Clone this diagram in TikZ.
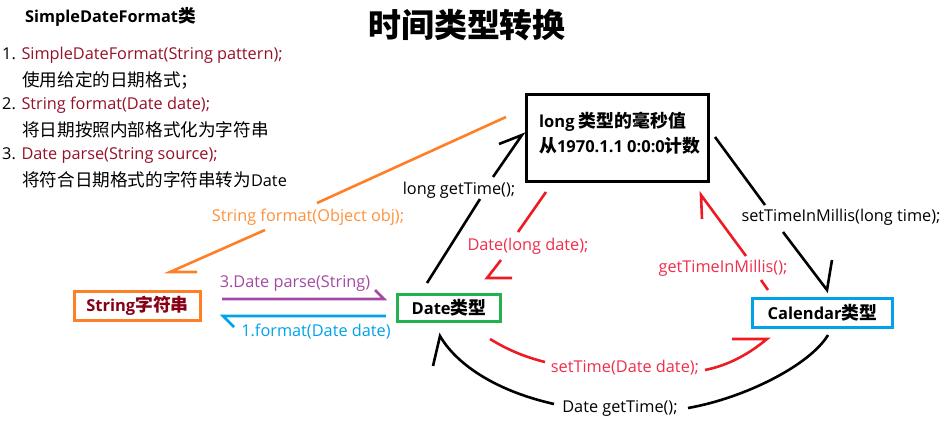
\documentclass[tikz,border=0pt]{standalone}
\usepackage{fontspec}
\setmainfont{Open Sans}
\newfontfamily\cjk[Scale=1.08]{Noto Sans CJK SC}
\definecolor{cOrange}{RGB}{255,127,39}
\definecolor{cOrangeT}{RGB}{255,145,60}
\definecolor{cPurple}{RGB}{163,73,164}
\definecolor{cBlue}{RGB}{0,162,232}
\definecolor{cGreen}{RGB}{34,177,76}
\definecolor{cRed}{RGB}{237,28,36}
\definecolor{cRedT}{RGB}{240,45,75}
\definecolor{cMaroon}{RGB}{150,16,40}
\definecolor{cBoxRed}{RGB}{136,0,21}
\begin{document}
\begin{tikzpicture}[x=1pt,y=-1pt,
  txt/.style={inner sep=0pt, anchor=west, font=\fontsize{16.3}{19}\selectfont},
  lbl/.style={inner sep=0pt, font=\fontsize{16.3}{19}\selectfont},
  box/.style={draw, line width=3pt, inner sep=0pt, font=\bfseries\fontsize{16.5}{19}\selectfont},
  conn/.style={line width=2.6pt, line cap=butt, line join=miter}]
\useasboundingbox (0,0) rectangle (950,429);

% left text block
\node[txt, font=\bfseries\fontsize{16.3}{19}\selectfont] (sdf) at (25,17) {SimpleDateFormat{\cjk\bfseries 类}};
\node[txt] (l1) at (2,55) {1. \textcolor{cMaroon}{SimpleDateFormat(String pattern);}};
\node[txt] (l2) at (22,80) {\cjk 使用给定的日期格式；};
\node[txt] (l3) at (2,105) {2. \textcolor{cMaroon}{String format(Date date);}};
\node[txt] (l4) at (22,130) {\cjk 将日期按照内部格式化为字符串};
\node[txt] (l5) at (2,155) {3. \textcolor{cMaroon}{Date parse(String source);}};
\node[txt] (l6) at (22,180) {{\cjk 将符合日期格式的字符串转为}Date};

% title
\node[inner sep=0pt] (title) at (467,25) {\cjk\bfseries\fontsize{30.5}{36}\selectfont 时间类型转换};

% boxes
\node[box, minimum width=182pt, minimum height=87pt] (longbox) at (617.5,138) {};
\node[inner sep=0pt, anchor=west, align=left, font=\bfseries\fontsize{16.5}{19}\selectfont] (longtxt) at (539,133.5)
  {long {\cjk\bfseries 类型的毫秒值}\\[5pt]{\cjk\bfseries 从}1970.1.1 0:0:0{\cjk\bfseries 计数}};
\node[box, draw=cOrange, text=cBoxRed, minimum width=126pt, minimum height=29pt] (strbox) at (137.5,306)
  {String{\cjk\bfseries 字符串}};
\node[box, draw=cGreen, minimum width=103pt, minimum height=27pt] (datebox) at (449,308)
  {Date{\cjk\bfseries 类型}\hspace{10pt}};
\node[box, draw=cBlue, minimum width=140pt, minimum height=29pt] (calbox) at (822.5,313)
  {Calendar{\cjk\bfseries 类型}\hspace{8pt}};

% labels
\node[lbl, text=cOrangeT] (lOrange) at (308,217) {String format(Object obj);};
\node[lbl, text=cPurple] (lParse) at (295,283) {3.Date parse(String)};
\node[lbl, text=cBlue] (lFormat) at (316,332) {1.format(Date date)};
\node[lbl] (lGetTime) at (459,190) {long getTime();};
\node[lbl, text=cRedT] (lDateLong) at (528,246) {Date(long date);};
\node[lbl] (lSetMillis) at (841,217) {setTimeInMillis(long time);};
\node[lbl, text=cRedT] (lGetMillis) at (723,268) {getTimeInMillis();};
\node[lbl, text=cRedT] (lSetTime) at (625,368) {setTime(Date date);};
\node[lbl] (lDateGet) at (620,408) {Date getTime();};

% coordinates
\coordinate (o1) at (506,117); \coordinate (o2) at (317,203);
\coordinate (o3) at (265,230); \coordinate (o4) at (170,272); \coordinate (o5) at (197,272);
\coordinate (p1) at (222,299); \coordinate (p2) at (384,299); \coordinate (p3) at (375,290);
\coordinate (b1) at (386,316); \coordinate (b2) at (223,316); \coordinate (b3) at (234,327);
\coordinate (g1) at (427,283); \coordinate (g2) at (480,199);
\coordinate (g3) at (493,177); \coordinate (g4) at (522,135); \coordinate (g5) at (499,144);
\coordinate (d1) at (546,192); \coordinate (d2) at (518,232);
\coordinate (d3) at (501,260); \coordinate (d4) at (487,278); \coordinate (d5) at (512,278);
\coordinate (s1) at (715,137); \coordinate (s2) at (765,205);
\coordinate (s3) at (783,232); \coordinate (s4) at (827,290); \coordinate (s5) at (832,260);
\coordinate (m1) at (768,290); \coordinate (m2) at (761,280);
\coordinate (m3) at (746,256); \coordinate (m4) at (701,195); \coordinate (m5) at (702,219);
\coordinate (t1) at (490,339); \coordinate (t2) at (545,362);
\coordinate (t3) at (705,370); \coordinate (t4) at (767,339); \coordinate (t5) at (732,339);
\coordinate (k1) at (828,335); \coordinate (k2) at (688,408);
\coordinate (k3) at (554,404); \coordinate (k4) at (440,336); \coordinate (k5) at (433,366);

% connectors
\draw[conn, cOrange] (o1) -- (o2);
\draw[conn, cOrange] (o3) -- (o4) -- (o5);
\draw[conn, cPurple] (p1) -- (p2) -- (p3);
\draw[conn, cBlue] (b1) -- (b2) -- (b3);
\draw[conn] (g1) -- (g2);
\draw[conn] (g3) -- (g4) -- (g5);
\draw[conn, cRed] (d1) -- (d2);
\draw[conn, cRed] (d3) -- (d4) -- (d5);
\draw[conn] (s1) -- (s2);
\draw[conn] (s3) -- (s4) -- (s5);
\draw[conn, cRed] (m1) -- (m2);
\draw[conn, cRed] (m3) -- (m4) -- (m5);
\draw[conn, cRed] (t1) .. controls (508,350) and (525,357) .. (t2);
\draw[conn, cRed] (t3) .. controls (730,365) and (750,353) .. (t4) -- (t5);
\draw[conn] (k1) .. controls (810,365) and (745,398) .. (k2);
\draw[conn] (k3) .. controls (492,390) and (455,362) .. (k4) -- (k5);
\end{tikzpicture}
\end{document}
